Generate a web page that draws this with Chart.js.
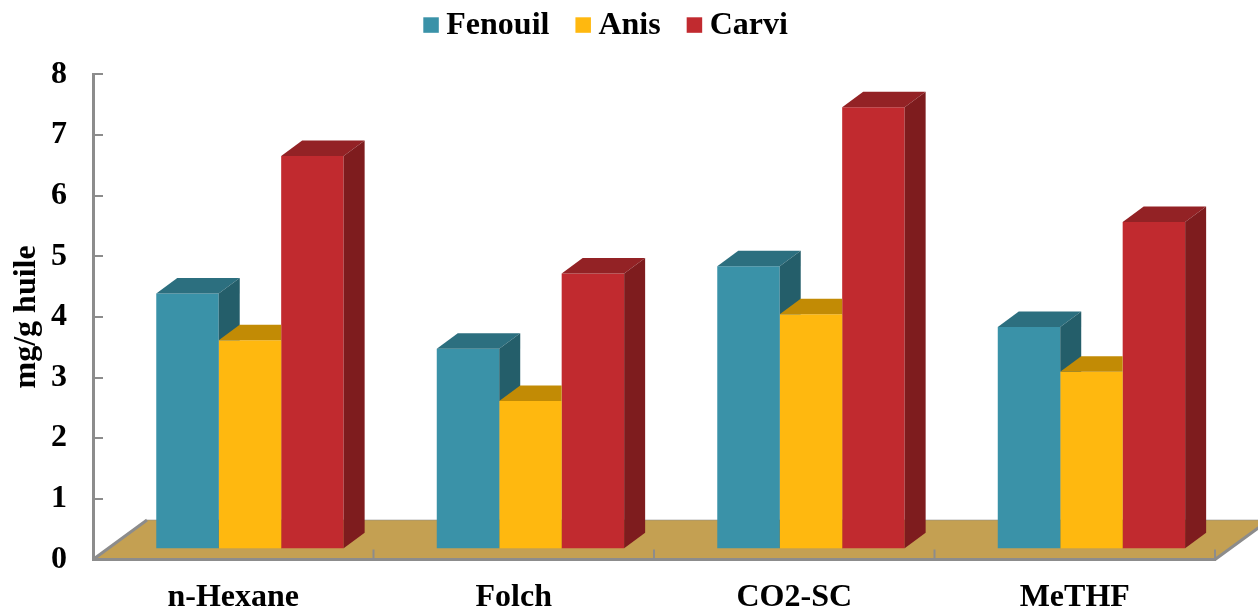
<!DOCTYPE html>
<html>
<head>
<meta charset="utf-8">
<script src="https://cdn.jsdelivr.net/npm/chart.js@4.4.0/dist/chart.umd.min.js"></script>
<style>
  html, body { margin: 0; padding: 0; background: #ffffff; }
  #wrap { width: 1258px; height: 613px; }
</style>
</head>
<body>
<div id="wrap"><canvas id="chart" width="1258" height="613"></canvas></div>
<script>
// Extraction methods and measured content (mg/g huile)
const categories = ['n-Hexane', 'Folch', 'CO2-SC', 'MeTHF'];
const fenouil = [4.20, 3.29, 4.65, 3.65];
const anis    = [3.43, 2.43, 3.86, 2.91];
const carvi   = [6.47, 4.53, 7.27, 5.38];
const yTicks  = [0, 1, 2, 3, 4, 5, 6, 7, 8];

// Styling
const FONT_FAMILY = "'Liberation Serif', 'Times New Roman', serif";
const FONT = { family: FONT_FAMILY, weight: 'bold', size: 32 };
const AXIS_GREY = '#8c8c8c';
const FLOOR_FILL = '#c4a052';
const FLOOR_DEPTH = { x: 54, y: -39.5 };   // back edge of the floor relative to the front edge
const BAR_SHIFT = { x: 16.7, y: -11.2 };   // bars stand part-way back on the floor
const BAR_DEPTH = { x: 21, y: -15.5 };     // extrusion of every column
const SHADES = [
  { front: '#3a92a8', top: '#2c6f7f', side: '#245e6a' },
  { front: '#ffb80f', top: '#c28b05', side: '#a87804' },
  { front: '#c12a2f', top: '#932225', side: '#7e1c1e' }
];

// Floor, inward value ticks and category separators (under the axes)
const floorPlugin = {
  id: 'floorPlugin',
  beforeDraw(chart) {
    const { ctx, chartArea: a, scales: { x, y } } = chart;
    const y0 = y.getPixelForValue(0);
    ctx.save();
    ctx.beginPath();
    ctx.moveTo(a.left, y0);
    ctx.lineTo(a.right, y0);
    ctx.lineTo(a.right + FLOOR_DEPTH.x, y0 + FLOOR_DEPTH.y);
    ctx.lineTo(a.left + FLOOR_DEPTH.x, y0 + FLOOR_DEPTH.y);
    ctx.closePath();
    ctx.fillStyle = FLOOR_FILL;
    ctx.fill();

    ctx.strokeStyle = 'rgba(140,140,140,0.55)';
    ctx.lineWidth = 1;
    ctx.beginPath();
    ctx.moveTo(a.left + FLOOR_DEPTH.x, y0 + FLOOR_DEPTH.y);
    ctx.lineTo(a.right + FLOOR_DEPTH.x, y0 + FLOOR_DEPTH.y);
    ctx.stroke();

    ctx.strokeStyle = AXIS_GREY;
    ctx.lineWidth = 3;
    ctx.beginPath();
    ctx.moveTo(a.left + FLOOR_DEPTH.x, y0 + FLOOR_DEPTH.y);
    ctx.lineTo(a.left, y0);
    ctx.moveTo(a.right, y0);
    ctx.lineTo(a.right + FLOOR_DEPTH.x, y0 + FLOOR_DEPTH.y);
    ctx.stroke();

    // value ticks pointing into the plot
    ctx.lineWidth = 2;
    ctx.beginPath();
    yTicks.forEach(v => {
      const py = Math.round(y.getPixelForValue(v));
      ctx.moveTo(a.left, py);
      ctx.lineTo(a.left + 10, py);
    });
    ctx.stroke();

    // separators between categories
    ctx.beginPath();
    for (let i = 1; i <= categories.length; i++) {
      const px = i === categories.length
        ? a.right
        : (x.getPixelForValue(i - 1) + x.getPixelForValue(i)) / 2;
      ctx.moveTo(px, y0);
      ctx.lineTo(px, y0 - 10);
    }
    ctx.stroke();
    ctx.restore();
  }
};

// Columns: fronts come from Chart.js, tops and right sides are extruded here
const columnPlugin = {
  id: 'columnPlugin',
  beforeDatasetsDraw(chart) {
    chart.ctx.save();
    chart.ctx.translate(BAR_SHIFT.x, BAR_SHIFT.y);
  },
  afterDatasetsDraw(chart) {
    const ctx = chart.ctx;
    const metas = chart.data.datasets.map((_, i) => chart.getDatasetMeta(i));
    const rectOf = el => {
      const p = el.getProps(['x', 'y', 'base', 'width'], true);
      return { l: p.x - p.width / 2, r: p.x + p.width / 2, t: Math.min(p.y, p.base), b: Math.max(p.y, p.base) };
    };
    for (let c = 0; c < categories.length; c++) {
      for (let d = 0; d < metas.length; d++) {
        const r = rectOf(metas[d].data[c]);
        const shade = SHADES[d];
        ctx.save();
        if (d + 1 < metas.length) {
          // keep the neighbour's front face in front of this column
          const n = rectOf(metas[d + 1].data[c]);
          ctx.beginPath();
          ctx.rect(-2000, -2000, 6000, 6000);
          ctx.rect(n.l, n.t, n.r - n.l, n.b - n.t);
          ctx.clip('evenodd');
        }
        // top face
        ctx.beginPath();
        ctx.moveTo(r.l, r.t);
        ctx.lineTo(r.l + BAR_DEPTH.x, r.t + BAR_DEPTH.y);
        ctx.lineTo(r.r + BAR_DEPTH.x, r.t + BAR_DEPTH.y);
        ctx.lineTo(r.r, r.t);
        ctx.closePath();
        ctx.fillStyle = shade.top;
        ctx.fill();
        // right side face
        ctx.beginPath();
        ctx.moveTo(r.r, r.t);
        ctx.lineTo(r.r + BAR_DEPTH.x, r.t + BAR_DEPTH.y);
        ctx.lineTo(r.r + BAR_DEPTH.x, r.b + BAR_DEPTH.y);
        ctx.lineTo(r.r, r.b);
        ctx.closePath();
        ctx.fillStyle = shade.side;
        ctx.fill();
        ctx.restore();
      }
    }
    ctx.restore();
  }
};

// Legend row across the top
const legendRowPlugin = {
  id: 'legendRowPlugin',
  afterDraw(chart) {
    const ctx = chart.ctx;
    ctx.save();
    ctx.font = `bold ${FONT.size}px ${FONT_FAMILY}`;
    ctx.textBaseline = 'alphabetic';
    ctx.textAlign = 'left';
    let x = 423.3;
    chart.data.datasets.forEach((ds, i) => {
      ctx.fillStyle = ds.backgroundColor;
      ctx.fillRect(x, 17.3, 15.5, 15.5);
      x += 15.5 + 7.5;
      ctx.fillStyle = '#000000';
      ctx.fillText(ds.label, x, 33.5);
      x += ctx.measureText(ds.label).width + 26;
    });
    ctx.restore();
  }
};

new Chart(document.getElementById('chart'), {
  type: 'bar',
  data: {
    labels: categories,
    datasets: [
      { label: 'Fenouil', data: fenouil, backgroundColor: SHADES[0].front },
      { label: 'Anis',    data: anis,    backgroundColor: SHADES[1].front },
      { label: 'Carvi',   data: carvi,   backgroundColor: SHADES[2].front }
    ]
  },
  options: {
    responsive: false,
    animation: false,
    devicePixelRatio: 1,
    layout: { padding: { top: 74.3, right: 43, bottom: 0, left: 0 } },
    datasets: {
      bar: { borderWidth: 0, barPercentage: 1.0, categoryPercentage: 0.668, clip: false }
    },
    plugins: {
      legend: { display: false },
      tooltip: { enabled: false }
    },
    scales: {
      x: {
        grid: { display: false, drawTicks: false },
        border: { display: true, color: AXIS_GREY, width: 3 },
        ticks: { padding: 19, color: '#000000', font: FONT, maxRotation: 0, autoSkip: false },
        afterFit(scale) { scale.height = 53.5; }
      },
      y: {
        min: 0,
        max: 8,
        afterBuildTicks(scale) { scale.ticks = yTicks.map(v => ({ value: v })); },
        grid: { display: false, drawTicks: false },
        border: { display: true, color: AXIS_GREY, width: 3 },
        ticks: { padding: 26, color: '#000000', font: FONT },
        title: { display: true, text: 'mg/g huile', color: '#000000', font: FONT, padding: { top: 8, bottom: 0 } },
        afterFit(scale) { scale.width = 93; }
      }
    }
  },
  plugins: [floorPlugin, columnPlugin, legendRowPlugin]
});
</script>
</body>
</html>
